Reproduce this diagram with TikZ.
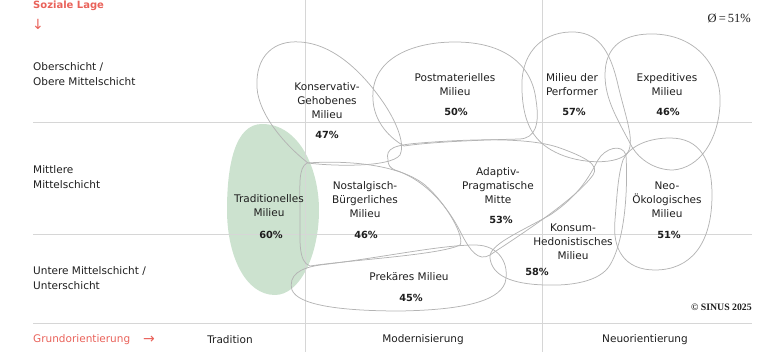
\documentclass[tikz,border=0pt]{standalone}
\usepackage{fontspec}
\setmainfont{DejaVu Sans}
\newfontfamily\serifont{Liberation Serif}
\definecolor{gridgray}{RGB}{214,214,214}
\definecolor{blobgray}{RGB}{180,180,180}
\definecolor{tradgreen}{RGB}{204,226,207}
\definecolor{txt}{RGB}{30,30,30}
\definecolor{sinusred}{RGB}{233,98,90}
\begin{document}
\begin{tikzpicture}[x=1pt,y=-1pt,
  grid/.style={draw=gridgray,line width=0.8pt},
  blob/.style={draw=blobgray,line width=0.75pt},
  lbl/.style={inner sep=0pt,align=center,text=txt,font=\fontsize{10.5}{14}\selectfont},
  pct/.style={inner sep=0pt,text=txt,font=\bfseries\fontsize{9.8}{12}\selectfont},
  side/.style={inner sep=0pt,anchor=west,align=left,text=txt,font=\fontsize{10.5}{15}\selectfont},
  axis/.style={inner sep=0pt,text=txt,font=\fontsize{10.5}{12}\selectfont},
  redlbl/.style={inner sep=0pt,anchor=west,text=sinusred,font=\fontsize{10.5}{12}\selectfont},
  ]
\useasboundingbox (0,0) rectangle (777,352);

% Traditionelles Milieu (filled)
\fill[tradgreen] (262,124) .. controls (300,124) and (319,170) .. (319,210)
 .. controls (319,255) and (300,295) .. (275,295)
 .. controls (245,295) and (227,255) .. (227,210)
 .. controls (227,165) and (235,124) .. (262,124) -- cycle;

% grid
\draw[grid] (33,122) -- (752,122);
\draw[grid] (33,234) -- (752,234);
\draw[grid] (33,323) -- (752,323);
\draw[grid] (305.5,0) -- (305.5,352);
\draw[grid] (542,0) -- (542,352);

% Konservativ-Gehobenes
\draw[blob] (257,88) .. controls (255,55) and (275,40) .. (300,42)
 .. controls (335,44) and (365,75) .. (385,105)
 .. controls (398,125) and (405,145) .. (400,155)
 .. controls (390,168) and (330,166) .. (308,163)
 .. controls (285,145) and (259,115) .. (257,88) -- cycle;
% Postmaterielles
\draw[blob] (373,100) .. controls (370,60) and (410,42) .. (455,42)
 .. controls (505,42) and (532,65) .. (536,100)
 .. controls (540,125) and (535,138) .. (520,139)
 .. controls (480,140) and (430,142) .. (404,146)
 .. controls (385,135) and (374,118) .. (373,100) -- cycle;
% Performer
\draw[blob] (522,90) .. controls (520,55) and (540,33) .. (570,32)
 .. controls (598,31) and (610,50) .. (618,85)
 .. controls (625,115) and (635,140) .. (628,152)
 .. controls (620,165) and (580,165) .. (555,152)
 .. controls (535,142) and (523,125) .. (522,90) -- cycle;
% Expeditives
\draw[blob] (605,75) .. controls (605,45) and (625,33) .. (655,34)
 .. controls (700,36) and (722,70) .. (720,105)
 .. controls (718,140) and (700,168) .. (673,170)
 .. controls (655,170) and (640,160) .. (632,147)
 .. controls (618,120) and (605,100) .. (605,75) -- cycle;
% Neo-Oekologisches
\draw[blob] (623,160) .. controls (630,145) and (650,138) .. (670,138)
 .. controls (700,138) and (712,160) .. (712,195)
 .. controls (712,245) and (690,270) .. (655,270)
 .. controls (625,270) and (612,250) .. (615,220)
 .. controls (617,195) and (618,175) .. (623,160) -- cycle;
% Adaptiv-Pragmatische Mitte
\draw[blob] (388,160) .. controls (385,148) and (395,145) .. (420,143)
 .. controls (470,139) and (530,137) .. (560,148)
 .. controls (585,157) and (600,165) .. (593,175)
 .. controls (575,200) and (520,235) .. (490,255)
 .. controls (478,262) and (470,250) .. (462,235)
 .. controls (445,200) and (420,178) .. (395,170)
 .. controls (390,168) and (388,165) .. (388,160) -- cycle;
% Nostalgisch-Buergerliches
\draw[blob] (307,163) .. controls (350,160) and (400,165) .. (425,185)
 .. controls (448,205) and (465,238) .. (460,245)
 .. controls (440,255) and (350,260) .. (310,266)
 .. controls (298,262) and (300,240) .. (300,215)
 .. controls (300,185) and (298,168) .. (307,163) -- cycle;
% Prekaeres
\draw[blob] (292,290) .. controls (288,275) and (300,268) .. (320,265)
 .. controls (380,258) and (440,245) .. (475,245)
 .. controls (500,245) and (510,265) .. (505,283)
 .. controls (498,302) and (460,310) .. (400,311)
 .. controls (340,311) and (298,305) .. (292,290) -- cycle;
% Konsum-Hedonistisches
\draw[blob] (490,258) .. controls (488,245) and (520,232) .. (550,215)
 .. controls (580,195) and (590,175) .. (598,160)
 .. controls (605,148) and (622,143) .. (626,155)
 .. controls (628,190) and (625,240) .. (610,265)
 .. controls (600,282) and (570,286) .. (545,285)
 .. controls (510,284) and (492,275) .. (490,258) -- cycle;

% milieu labels
\node[lbl] (kg) at (327,101) {Konservativ-\\Gehobenes\\Milieu};
\node[pct] (kgp) at (327,135) {47\%};
\node[lbl] (pm) at (455,84.5) {Postmaterielles\\Milieu};
\node[pct] (pmp) at (456,112) {50\%};
\node[lbl] (pf) at (572,84.5) {Milieu der\\Performer};
\node[pct] (pfp) at (574,112) {57\%};
\node[lbl] (ex) at (667,84.5) {Expeditives\\Milieu};
\node[pct] (exp) at (668,112) {46\%};
\node[lbl] (tr) at (269,206) {Traditionelles\\Milieu};
\node[pct] (trp) at (271,235) {60\%};
\node[lbl] (nb) at (365,200) {Nostalgisch-\\Bürgerliches\\Milieu};
\node[pct] (nbp) at (366,235) {46\%};
\node[lbl] (ap) at (498,185.5) {Adaptiv-\\Pragmatische\\Mitte};
\node[pct] (app) at (501,220) {53\%};
\node[lbl] (kh) at (573,242) {Konsum-\\Hedonistisches\\Milieu};
\node[pct] (khp) at (537,272) {58\%};
\node[lbl] (no) at (667,200) {Neo-\\Ökologisches\\Milieu};
\node[pct] (nop) at (669,235) {51\%};
\node[lbl] (pr) at (409,277) {Prekäres Milieu};
\node[pct] (prp) at (411,298) {45\%};

% axis labels
\node[redlbl,font=\bfseries\fontsize{10}{12}\selectfont] (sl) at (33,6) {Soziale Lage};
\node[redlbl,font=\fontsize{14}{14}\selectfont] (sla) at (32,24) {↓};
\node[side] (s1) at (33,74.5) {Oberschicht /\\Obere Mittelschicht};
\node[side] (s2) at (33,177.5) {Mittlere\\Mittelschicht};
\node[side] (s3) at (33,278.5) {Untere Mittelschicht /\\Unterschicht};
\node[redlbl] (go) at (33,340) {Grundorientierung};
\node[redlbl,font=\fontsize{14}{14}\selectfont] (goa) at (143,340) {→};
\node[axis] (ot) at (230,340) {Tradition};
\node[axis] (om) at (423,340) {Modernisierung};
\node[axis] (on) at (645,340) {Neuorientierung};
\node[inner sep=0pt,anchor=east,text=txt,font=\serifont\fontsize{12.5}{13}\selectfont] (avg) at (751,18) {Ø\,=\,51\%};
\node[inner sep=0pt,anchor=east,text=txt,font=\serifont\bfseries\fontsize{9.8}{12}\selectfont] (cr) at (752,307) {© SINUS 2025};
\end{tikzpicture}
\end{document}
